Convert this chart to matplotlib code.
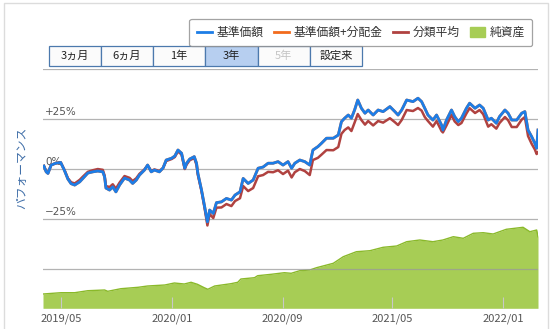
import matplotlib
matplotlib.use('Agg')
import matplotlib.pyplot as plt
import matplotlib.dates as mdates
from matplotlib.lines import Line2D
from matplotlib.patches import Patch, Rectangle
import pandas as pd

plt.rcParams['font.family'] = ['Noto Sans CJK JP', 'DejaVu Sans']

# ──────────────────────────────────────────────
#  Datos
# ──────────────────────────────────────────────

fechas = [
    '2019-03-24', '2019-03-29', '2019-04-02', '2019-04-09', '2019-04-19', '2019-04-30',
    '2019-05-08', '2019-05-16', '2019-05-23', '2019-05-31', '2019-06-11', '2019-06-18',
    '2019-06-29', '2019-07-10', '2019-07-21', '2019-08-01', '2019-08-05', '2019-08-08',
    '2019-08-16', '2019-08-23', '2019-08-30', '2019-09-07', '2019-09-18', '2019-09-29',
    '2019-10-06', '2019-10-14', '2019-10-21', '2019-11-01', '2019-11-08', '2019-11-16',
    '2019-11-23', '2019-12-04', '2019-12-12', '2019-12-19', '2019-12-31', '2020-01-07',
    '2020-01-14', '2020-01-22', '2020-01-29', '2020-02-02', '2020-02-09', '2020-02-19',
    '2020-02-24', '2020-02-27', '2020-03-06', '2020-03-13', '2020-03-19', '2020-03-24',
    '2020-04-01', '2020-04-08', '2020-04-19', '2020-04-30', '2020-05-11', '2020-05-19',
    '2020-05-30', '2020-06-06', '2020-06-17', '2020-06-28', '2020-07-09', '2020-07-20',
    '2020-07-31', '2020-08-11', '2020-08-22', '2020-09-02', '2020-09-13', '2020-09-21',
    '2020-09-28', '2020-10-09', '2020-10-20', '2020-10-31', '2020-11-07', '2020-11-18',
    '2020-11-26', '2020-12-07', '2020-12-22', '2021-01-02', '2021-01-09', '2021-01-16',
    '2021-01-24', '2021-01-31', '2021-02-07', '2021-02-14', '2021-02-22', '2021-03-02',
    '2021-03-09', '2021-03-20', '2021-03-31', '2021-04-11', '2021-04-26', '2021-05-07',
    '2021-05-14', '2021-05-22', '2021-06-02', '2021-06-16', '2021-06-27', '2021-07-05',
    '2021-07-12', '2021-07-19', '2021-07-30', '2021-08-07', '2021-08-18', '2021-08-21',
    '2021-08-29', '2021-09-09', '2021-09-16', '2021-09-24', '2021-10-01', '2021-10-12',
    '2021-10-19', '2021-10-31', '2021-11-10', '2021-11-18', '2021-11-29', '2021-12-06',
    '2021-12-17', '2021-12-24', '2022-01-05', '2022-01-12', '2022-01-20', '2022-01-31',
    '2022-02-11', '2022-02-18', '2022-02-25', '2022-03-05', '2022-03-12', '2022-03-16',
    '2022-03-19',
]

# 基準価額 (騰落率 %)
kijun = [
    1.5, -1.4, -2.2, 2.0, 2.9, 3.3, -0.5, -5.0, -7.3, -8.0, -6.4, -4.7,
    -2.0, -1.4, -1.0, -1.4, -3.9, -9.5, -10.5, -8.9, -11.4, -8.0, -4.5, -5.5,
    -7.2, -5.5, -3.0, -0.5, 2.0, -1.4, -0.5, -1.4, 0.5, 4.5, 5.4, 6.5,
    9.5, 7.9, 0.4, 2.9, 5.0, 6.2, 2.9, -2.2, -10.5, -18.9, -26.4, -20.5,
    -22.2, -16.8, -16.4, -14.7, -15.5, -13.0, -11.4, -4.7, -7.2, -5.5, 0.4, 1.0,
    2.9, 2.9, 3.7, 2.0, 3.7, 0.4, 2.9, 4.5, 3.7, 2.0, 9.5, 11.2,
    12.9, 15.4, 15.4, 17.0, 23.7, 25.4, 27.0, 25.4, 29.5, 34.5, 30.4, 27.9,
    29.5, 27.0, 29.5, 28.7, 31.2, 28.7, 27.0, 29.5, 34.5, 33.7, 35.4, 33.7,
    30.4, 27.0, 24.5, 27.0, 22.0, 19.5, 24.5, 29.5, 26.2, 23.7, 25.4, 30.4,
    32.9, 30.4, 32.0, 30.4, 24.5, 25.4, 22.9, 26.2, 29.5, 27.9, 24.5, 24.5,
    27.9, 28.7, 19.5, 16.2, 12.9, 10.4, 19.5,
]

# 基準価額+分配金 (分配なしのため基準価額と同じ)
kijun_bunpai = list(kijun)

# 分類平均
bunrui = [
    1.5, -1.0, -1.8, 2.0, 2.9, 3.3, -0.3, -4.6, -6.6, -7.2, -5.4, -3.8,
    -1.4, -0.6, 0.0, -0.4, -3.2, -8.5, -9.0, -7.6, -9.8, -6.8, -3.5, -4.4,
    -6.0, -4.6, -2.4, -0.2, 1.8, -1.0, -0.2, -1.0, 0.5, 4.0, 5.0, 6.0,
    8.8, 7.2, 0.0, 2.2, 4.4, 5.5, 2.0, -3.0, -11.0, -19.8, -28.2, -22.5,
    -24.5, -19.3, -19.2, -17.5, -18.5, -16.0, -14.6, -8.5, -11.0, -9.5, -3.6, -3.0,
    -1.4, -1.6, -0.6, -2.5, -0.8, -4.2, -1.6, 0.0, -1.0, -3.0, 4.5, 5.6,
    7.2, 9.5, 9.4, 11.0, 17.6, 19.5, 20.8, 19.0, 23.2, 27.5, 24.5, 22.2,
    24.0, 21.8, 24.0, 23.2, 25.4, 23.4, 22.0, 24.5, 29.5, 29.0, 30.5, 29.2,
    26.0, 24.0, 21.2, 24.0, 19.0, 18.3, 21.8, 27.0, 23.8, 22.0, 23.0, 27.8,
    30.4, 28.0, 29.5, 27.4, 21.2, 22.4, 20.2, 23.0, 26.0, 24.4, 21.0, 21.0,
    24.7, 26.0, 16.5, 12.6, 9.8, 7.5, 8.4,
]

fechas_na = [
    '2019-03-22', '2019-05-01', '2019-05-31', '2019-06-29', '2019-08-05', '2019-08-12',
    '2019-09-10', '2019-10-18', '2019-11-08', '2019-12-16', '2020-01-06', '2020-01-28',
    '2020-02-12', '2020-02-26', '2020-03-12', '2020-03-20', '2020-04-04', '2020-05-10',
    '2020-05-25', '2020-06-01', '2020-07-01', '2020-07-08', '2020-08-07', '2020-09-05',
    '2020-09-20', '2020-10-09', '2020-10-31', '2020-11-15', '2020-12-22', '2021-01-13',
    '2021-02-11', '2021-03-13', '2021-04-11', '2021-05-11', '2021-06-02', '2021-07-01',
    '2021-07-30', '2021-08-21', '2021-09-13', '2021-10-05', '2021-10-27', '2021-11-18',
    '2021-12-10', '2022-01-08', '2022-02-14', '2022-03-01', '2022-03-16', '2022-03-19',
]

# 純資産 (億円)
jun_shisan = [
    143, 156, 156, 176, 183, 170, 196, 210, 223, 233, 253, 243,
    260, 240, 206, 190, 223, 246, 260, 293, 306, 326, 340, 356,
    350, 376, 383, 406, 450, 516, 566, 576, 610, 623, 666, 683,
    666, 683, 716, 700, 750, 756, 743, 790, 810, 766, 783, 716,
]

periodos = ['3ヵ月', '6ヵ月', '1年', '3年', '5年', '設定来']
periodo_activo = '3年'
periodo_inactivo = '5年'

etiquetas_y = {25: '+25%', 0: '0%', -25: '−25%'}
ticks_x = ['2019-05-01', '2020-01-01', '2020-09-01', '2021-05-01', '2022-01-01']

# ──────────────────────────────────────────────
#  Colores
# ──────────────────────────────────────────────

AZUL = '#1d7de6'
NARANJA = '#f26b1d'
ROJO = '#b04240'
VERDE = '#a7cd55'
VERDE_BORDE = '#8ab92a'

W, H = 551, 329


def px(x, y):
    """pixeles (desde arriba-izquierda) -> coordenadas de figura"""
    return x / W, 1 - y / H


# ──────────────────────────────────────────────
#  Figura
# ──────────────────────────────────────────────

fig = plt.figure(figsize=(W / 100, H / 100), dpi=100)

x0, y_top = px(43, 69)
x1, y_bot = px(538, 308.3)
ax2 = fig.add_axes([x0, y_bot, x1 - x0, y_top - y_bot])
ax = fig.add_axes([x0, y_bot, x1 - x0, y_top - y_bot], sharex=ax2)
ax.set_zorder(ax2.get_zorder() + 1)
ax.patch.set_visible(False)

d = pd.to_datetime(fechas)
d_na = pd.to_datetime(fechas_na)

# ── 純資産 (área) ──
ax2.fill_between(d_na, 0, jun_shisan, color=VERDE, lw=0)
ax2.plot(d_na, jun_shisan, color=VERDE_BORDE, lw=1.0)
ax2.set_ylim(0, 2393)
ax2.axis('off')

# ── Rejilla ──
for v in [-50, -25, 0, 25, 50]:
    ax.axhline(v, color='#9a9a9a', lw=0.9, alpha=0.75, zorder=1)
for v, txt in etiquetas_y.items():
    ax.text(0.004, v + 1.2, txt, transform=ax.get_yaxis_transform(),
            fontsize=7.5, color='#555555', ha='left', va='bottom', zorder=1,
            family=['DejaVu Sans'])

# ── Líneas ──
ax.plot(d, kijun_bunpai, color=NARANJA, lw=2.0, zorder=2)
ax.plot(d, bunrui, color=ROJO, lw=1.8, zorder=3)
ax.plot(d, kijun, color=AZUL, lw=2.0, zorder=4)

ax.set_ylim(-69.6, 50)
ax.set_xlim(pd.Timestamp('2019-03-22'), pd.Timestamp('2022-03-19'))
ax.set_yticks([])
ax.set_xticks(pd.to_datetime(ticks_x))
ax.xaxis.set_major_formatter(mdates.DateFormatter('%Y/%m'))
ax.tick_params(axis='x', direction='in', length=8, color='#c8c8c8',
               labelsize=8, labelcolor='#555555', pad=4)
for s in ax.spines.values():
    s.set_visible(False)

ax.set_ylabel('パフォーマンス', color='#3f6ea8', fontsize=8.5)
ax.yaxis.set_label_coords(-0.03, 0.585)

# ── Marco exterior ──
fig.patches.append(Rectangle(px(4, 340), 544 / W, 337 / H, transform=fig.transFigure,
                             fill=False, edgecolor='#dcdcdc', lw=1.0))

# ── Leyenda ──
handles = [
    Line2D([], [], color=AZUL, lw=2),
    Line2D([], [], color=NARANJA, lw=2),
    Line2D([], [], color=ROJO, lw=2),
    Patch(facecolor=VERDE, edgecolor=VERDE),
]
labels = ['基準価額', '基準価額+分配金', '分類平均', '純資産']
leg = fig.legend(handles, labels, loc='upper right', bbox_to_anchor=px(538, 13), ncol=4,
                 fontsize=8.5, frameon=True, fancybox=True, edgecolor='#8c8c8c',
                 handlelength=1.3, handleheight=0.9, handletextpad=0.4,
                 columnspacing=0.85, borderpad=0.6)
leg.get_frame().set_linewidth(0.9)
for t in leg.get_texts():
    t.set_color('#333333')

# ── Botones de periodo ──
bx, by, bw, bh = 48.7, 46, 52.2, 20
for i, nombre in enumerate(periodos):
    fx, fy = px(bx + i * bw, by + bh)
    fondo = '#b7cff0' if nombre == periodo_activo else '#fbfbfb'
    fig.patches.append(Rectangle((fx, fy), bw / W, bh / H, transform=fig.transFigure,
                                 facecolor=fondo, edgecolor='#4c79ad', lw=0.9))
    color = '#c4c4c4' if nombre == periodo_inactivo else '#222222'
    cx, cy = px(bx + i * bw + bw / 2, by + bh / 2)
    fig.text(cx, cy, nombre, ha='center', va='center', fontsize=8, color=color)

plt.savefig('out.png', dpi=100)
plt.close()
